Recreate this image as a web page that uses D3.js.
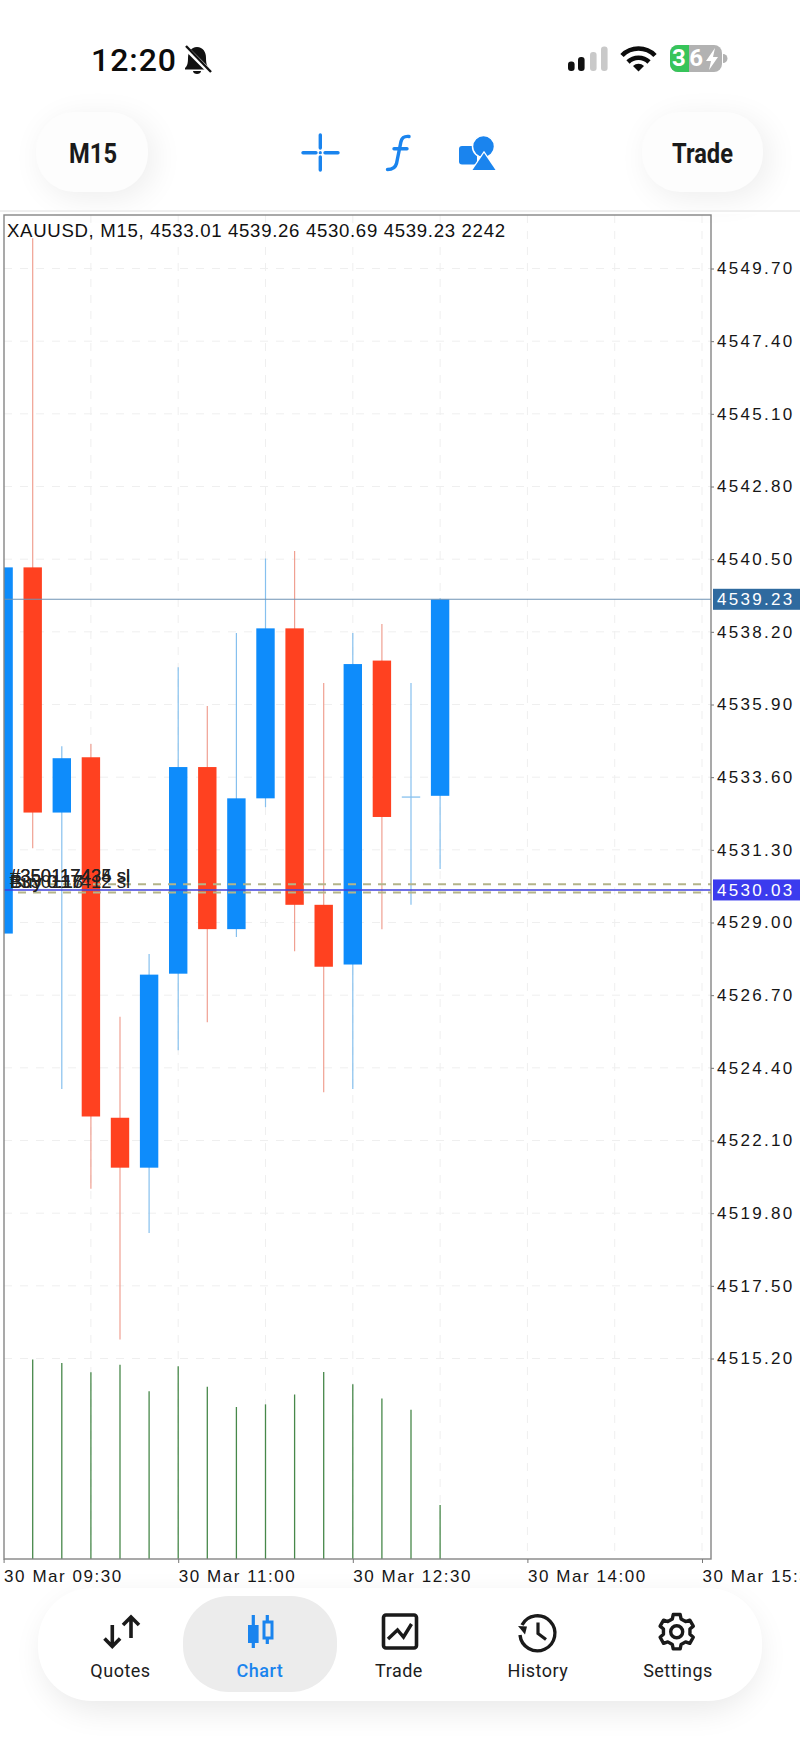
<!DOCTYPE html>
<html>
<head>
<meta charset="utf-8">
<title>XAUUSD M15</title>
<script src="https://cdnjs.cloudflare.com/ajax/libs/d3/7.8.5/d3.min.js"></script>
<style>
    html, body { margin: 0; padding: 0; background: #fff; overflow: hidden; }
    svg { display: block; }
    text { font-family: Roboto, sans-serif; }
    .axis text { font-family: "Liberation Sans", sans-serif; font-size: 17px; letter-spacing: 2.3px; fill: #161616; }
    .axis line { stroke: #777; stroke-width: 1; }
    .tab { font-size: 18px; letter-spacing: 0.5px; fill: #1c1c1c; text-anchor: middle; }
</style>
</head>
<body>
<script>
// Bars of the chart, 15 minutes each
const barTimes = ["30 Mar 09:30", "30 Mar 09:45", "30 Mar 10:00", "30 Mar 10:15", "30 Mar 10:30", "30 Mar 10:45", "30 Mar 11:00", "30 Mar 11:15", "30 Mar 11:30", "30 Mar 11:45", "30 Mar 12:00", "30 Mar 12:15", "30 Mar 12:30", "30 Mar 12:45", "30 Mar 13:00", "30 Mar 13:15"];
const opens  = [4528.65, 4540.24, 4532.48, 4534.23, 4522.82, 4521.24, 4527.38, 4533.92, 4528.79, 4532.93, 4538.31, 4529.56, 4527.67, 4537.29, 4532.97, 4533.01];
const highs  = [4540.24, 4550.66, 4534.58, 4534.65, 4526.02, 4528.00, 4537.08, 4535.85, 4538.16, 4540.52, 4540.76, 4536.58, 4538.16, 4538.45, 4536.58, 4539.26];
const lows   = [4528.65, 4531.35, 4523.73, 4520.57, 4515.80, 4519.17, 4524.96, 4525.84, 4528.54, 4532.65, 4528.09, 4523.63, 4523.73, 4528.79, 4529.56, 4530.69];
const closes = [4540.24, 4532.48, 4534.20, 4522.86, 4521.24, 4527.35, 4533.92, 4528.79, 4532.93, 4538.31, 4529.56, 4527.60, 4537.18, 4532.34, 4532.97, 4539.23];
// first bar has no volume line showing, it sits under the frame
const volumes = [null, 8280, 8140, 7750, 8060, 6960, 8000, 7150, 6310, 6420, 6830, 7760, 7260, 6660, 6200, 2242];

const priceTicks = [4549.70, 4547.40, 4545.10, 4542.80, 4540.50, 4538.20, 4535.90, 4533.60, 4531.30, 4529.00, 4526.70, 4524.40, 4522.10, 4519.80, 4517.50, 4515.20];
const timeTicks = ["30 Mar 09:30", "30 Mar 11:00", "30 Mar 12:30", "30 Mar 14:00", "30 Mar 15:30"];
const gridTimes = ["30 Mar 10:15", "30 Mar 11:00", "30 Mar 11:45", "30 Mar 12:30", "30 Mar 13:15", "30 Mar 14:00", "30 Mar 14:45", "30 Mar 15:30"];

const lastPrice = 4539.23;
const bidPrice = 4530.03;
const orderLevels = [4530.21, 4529.95];
const orderLabelsTop = ["#350117435 sl", "#350117434 sl"];
const orderLabelsBottom = ["#350117412 sl", "Buy 0.17", "Buy 0.18"];
const headerText = "XAUUSD, M15, 4533.01 4539.26 4530.69 4539.23 2242";
const tabNames = ["Quotes", "Chart", "Trade", "History", "Settings"];

const blue = "#0e8cfb", red = "#ff4120", accent = "#1a84ee", dark = "#1a1a1a";
const frame = { left: 4, right: 711, top: 215, bottom: 1559 };

const parseTime = d3.timeParse("%d %b %H:%M");
const formatTime = d3.timeFormat("%d %b %H:%M");

const x = d3.scaleTime()
    .domain([parseTime("30 Mar 09:30"), parseTime("30 Mar 15:30")])
    .range([3.6, 702]);
const y = d3.scaleLinear()
    .domain([4515.20, 4549.70])
    .range([1358.5, 268.5]);
const yVol = d3.scaleLinear()
    .domain([0, 2242])
    .range([1559, 1505]);

const svg = d3.select("body").append("svg").attr("width", 800).attr("height", 1739);
const defs = svg.append("defs");
defs.append("clipPath").attr("id", "plot").append("rect")
    .attr("x", frame.left).attr("y", frame.top)
    .attr("width", frame.right - frame.left).attr("height", frame.bottom - frame.top);
defs.append("filter").attr("id", "soft")
    .attr("x", "-30%").attr("y", "-50%").attr("width", "160%").attr("height", "220%")
    .append("feGaussianBlur").attr("stdDeviation", 16);

// ---- chart ----
const plot = svg.append("g").attr("clip-path", "url(#plot)");

// grid
plot.selectAll(".hgrid").data(priceTicks).enter().append("line")
    .attr("x1", frame.left).attr("x2", frame.right)
    .attr("y1", d => y(d)).attr("y2", d => y(d))
    .attr("stroke", "#efefef").attr("stroke-width", 1).attr("stroke-dasharray", "8 8");
plot.selectAll(".vgrid").data(gridTimes).enter().append("line")
    .attr("x1", d => x(parseTime(d))).attr("x2", d => x(parseTime(d)))
    .attr("y1", frame.top).attr("y2", frame.bottom)
    .attr("stroke", "#efefef").attr("stroke-width", 1).attr("stroke-dasharray", "8 8");

// volume
plot.selectAll(".vol").data(barTimes.filter((t, i) => volumes[i] !== null)).enter().append("line")
    .attr("x1", d => x(parseTime(d))).attr("x2", d => x(parseTime(d)))
    .attr("y1", yVol(0))
    .attr("y2", d => yVol(volumes[barTimes.indexOf(d)]))
    .attr("stroke", "#47884a").attr("stroke-width", 1.3);

// candles
const bodyWidth = 18.4;
const candles = plot.selectAll(".candle").data(barTimes).enter().append("g");
candles.append("line")
    .attr("x1", d => x(parseTime(d))).attr("x2", d => x(parseTime(d)))
    .attr("y1", (d, i) => y(highs[i])).attr("y2", (d, i) => y(lows[i]))
    .attr("stroke", (d, i) => closes[i] >= opens[i] ? "#86c0ee" : "#f0a092")
    .attr("stroke-width", 1.2);
candles.append("rect")
    .attr("x", d => x(parseTime(d)) - bodyWidth / 2)
    .attr("width", bodyWidth)
    .attr("y", (d, i) => y(Math.max(opens[i], closes[i])))
    .attr("height", (d, i) => Math.abs(y(opens[i]) - y(closes[i])))
    .attr("fill", (d, i) => closes[i] >= opens[i] ? blue : red);
// doji bar has no body height, mark it with a thin line
candles.filter((d, i) => opens[i] === closes[i]).append("line")
    .attr("x1", d => x(parseTime(d)) - bodyWidth / 2)
    .attr("x2", d => x(parseTime(d)) + bodyWidth / 2)
    .attr("y1", (d, i) => y(opens[barTimes.indexOf(d)]))
    .attr("y2", (d, i) => y(opens[barTimes.indexOf(d)]))
    .attr("stroke", "#86c0ee").attr("stroke-width", 1.3);

// open orders and price lines
plot.selectAll(".order").data(orderLevels).enter().append("line")
    .attr("x1", 18).attr("x2", frame.right)
    .attr("y1", d => y(d)).attr("y2", d => y(d))
    .attr("stroke", "#b4b48a").attr("stroke-width", 1.8).attr("stroke-dasharray", "8 7");
plot.append("line").attr("x1", frame.left).attr("x2", frame.right)
    .attr("y1", y(lastPrice)).attr("y2", y(lastPrice))
    .attr("stroke", "#6f93b5").attr("stroke-width", 1.1);
plot.append("line").attr("x1", frame.left).attr("x2", frame.right)
    .attr("y1", y(bidPrice)).attr("y2", y(bidPrice))
    .attr("stroke", "#4040dd").attr("stroke-width", 1.6);

orderLabelsTop.forEach(t => {
    svg.append("text").attr("x", 10).attr("y", 882).text(t)
        .style("font-family", "Liberation Sans").style("font-size", "18.5px").attr("fill", "#222");
});
orderLabelsBottom.forEach(t => {
    svg.append("text").attr("x", 10).attr("y", 888).text(t)
        .style("font-family", "Liberation Sans").style("font-size", "18.5px").attr("fill", "#222");
});

// frame
svg.append("rect")
    .attr("x", frame.left).attr("y", frame.top)
    .attr("width", frame.right - frame.left).attr("height", frame.bottom - frame.top)
    .attr("fill", "none").attr("stroke", "#858585").attr("stroke-width", 1.4);

svg.append("text").attr("x", 7).attr("y", 237).text(headerText)
    .attr("textLength", 498)
    .style("font-family", "Liberation Sans").style("font-size", "18.6px").attr("fill", "#111");

// axes
const yAxis = d3.axisRight(y).tickValues(priceTicks).tickFormat(d3.format(".2f")).tickSize(3).tickPadding(3);
svg.append("g").attr("class", "axis").attr("transform", `translate(${frame.right},0)`).call(yAxis)
    .call(g => g.select(".domain").remove());

const xAxis = d3.axisBottom(x).tickValues(timeTicks.map(parseTime)).tickFormat(formatTime).tickSize(4).tickPadding(3);
svg.append("g").attr("class", "axis").attr("transform", `translate(0,${frame.bottom})`).call(xAxis)
    .call(g => g.select(".domain").remove())
    .call(g => g.selectAll("text").attr("text-anchor", "start").style("letter-spacing", "1.55px").attr("dy", "0.95em"));

// price tags on the right
[[lastPrice, "#2f6a9f"], [bidPrice, "#3b3bee"]].forEach(p => {
    svg.append("rect").attr("x", 713).attr("y", y(p[0]) - 10.5).attr("width", 87).attr("height", 21).attr("fill", p[1]);
    svg.append("text").attr("x", 717).attr("y", y(p[0]) + 6).text(d3.format(".2f")(p[0]))
        .style("font-family", "Liberation Sans").style("font-size", "17px").style("letter-spacing", "2.3px").attr("fill", "#fff");
});

// ---- top bar ----
svg.append("line").attr("x1", 0).attr("x2", 800).attr("y1", 211).attr("y2", 211).attr("stroke", "#dedede").attr("stroke-width", 1);

[[36, 112, 112, 80], [642, 112, 121, 80]].forEach(p => {
    svg.append("rect").attr("x", p[0] + 6).attr("y", p[1] + 6).attr("width", p[2]).attr("height", p[3]).attr("rx", 38)
        .attr("fill", "#000").attr("opacity", 0.07).attr("filter", "url(#soft)");
    svg.append("rect").attr("x", p[0]).attr("y", p[1]).attr("width", p[2]).attr("height", p[3]).attr("rx", 38).attr("fill", "#fdfdfd");
});
svg.append("rect").attr("x", 0).attr("y", 210).attr("width", 800).attr("height", 4).attr("fill", "#fff");
svg.append("line").attr("x1", 0).attr("x2", 800).attr("y1", 211).attr("y2", 211).attr("stroke", "#dedede").attr("stroke-width", 1);

svg.append("text").attr("x", 69).attr("y", 163).text("M15").attr("textLength", 48).attr("lengthAdjust", "spacingAndGlyphs")
    .style("font-size", "28px").style("font-weight", 700).attr("fill", dark);
svg.append("text").attr("x", 672).attr("y", 163).text("Trade").attr("textLength", 61).attr("lengthAdjust", "spacingAndGlyphs")
    .style("font-size", "28px").style("font-weight", 700).attr("fill", dark);

// status bar
svg.append("text").attr("x", 91).attr("y", 71).text("12:20").attr("textLength", 85)
    .style("font-size", "32px").style("font-weight", 500).attr("fill", "#0c0c0c");
const bell = svg.append("g").attr("fill", "#111");
bell.append("path").attr("d", "M197 47c-6 0-9 5-9 11 0 6-1 8-3 10v1.500h24v-1.500c-2-2-3-4-3-10 0-6-3-11-9-11z");
bell.append("path").attr("d", "M193 71h8c0 2-2 3-4 3s-4-1-4-3z");
bell.append("line").attr("x1", 185).attr("y1", 47).attr("x2", 211).attr("y2", 73).attr("stroke", "#fff").attr("stroke-width", 5);
bell.append("line").attr("x1", 186).attr("y1", 46).attr("x2", 211).attr("y2", 72).attr("stroke", "#111").attr("stroke-width", 2.4);

[[568, 61.5, "#111"], [578, 57, "#111"], [590, 52, "#c9c9c9"], [601, 46.5, "#c9c9c9"]].forEach(b => {
    svg.append("rect").attr("x", b[0]).attr("y", b[1]).attr("width", 6.6).attr("height", 71 - b[1]).attr("rx", 3).attr("fill", b[2]);
});
const wifi = svg.append("g").attr("fill", "none").attr("stroke", "#0c0c0c").attr("stroke-width", 4.6);
wifi.append("path").attr("d", "M622 55.500a23 23 0 0 1 33 0");
wifi.append("path").attr("d", "M628 62a15 15 0 0 1 21 0");
svg.append("path").attr("d", "M633 66a8 8 0 0 1 11 0l-5.500 5.500z").attr("fill", "#0c0c0c");

svg.append("rect").attr("x", 670).attr("y", 45).attr("width", 52).attr("height", 27).attr("rx", 8).attr("fill", "#b2b2b2");
svg.append("path").attr("d", "M678 45h11v27h-11a8 8 0 0 1-8-8v-11a8 8 0 0 1 8-8z").attr("fill", "#37c45a");
svg.append("path").attr("d", "M723 54a4 4 0 0 1 0 9z").attr("fill", "#b2b2b2");
svg.append("text").attr("x", 672).attr("y", 66).text("36").style("font-size", "24px").style("font-weight", 700)
    .attr("fill", "#fff").attr("textLength", 31);
svg.append("path").attr("d", "M715 48l-9 13h5l-2 9 9-13h-5z").attr("fill", "#fff");

// toolbar icons
const cross = svg.append("g").attr("stroke", accent).attr("stroke-width", 3.4).attr("stroke-linecap", "round");
[[303, 152.700, 316, 152.700], [325, 152.700, 338, 152.700], [320.300, 135, 320.300, 148], [320.300, 157, 320.300, 170]].forEach(s => {
    cross.append("line").attr("x1", s[0]).attr("y1", s[1]).attr("x2", s[2]).attr("y2", s[3]);
});
svg.append("circle").attr("cx", 320.3).attr("cy", 152.7).attr("r", 1.6).attr("fill", accent);
svg.append("path").attr("d", "M409 136.500c-5-0.500-7 1-8 5l-4.500 22c-1 4-4 6-9 6M394 148.700h13")
    .attr("fill", "none").attr("stroke", accent).attr("stroke-width", 3.4).attr("stroke-linecap", "round");
svg.append("rect").attr("x", 459).attr("y", 146).attr("width", 18).attr("height", 18.5).attr("rx", 3).attr("fill", accent);
svg.append("circle").attr("cx", 483.5).attr("cy", 146.5).attr("r", 11).attr("fill", accent).attr("stroke", "#fff").attr("stroke-width", 1.5);
svg.append("path").attr("d", "M484 153l11.500 17h-23z").attr("fill", accent).attr("stroke", "#fff").attr("stroke-width", 2.5).attr("paint-order", "stroke");

// ---- bottom tabs ----
svg.append("rect").attr("x", 44).attr("y", 1600).attr("width", 714).attr("height", 110).attr("rx", 54)
    .attr("fill", "#000").attr("opacity", 0.09).attr("filter", "url(#soft)");
svg.append("rect").attr("x", 38).attr("y", 1588).attr("width", 724).attr("height", 113).attr("rx", 54).attr("fill", "#fff");
svg.append("rect").attr("x", 183).attr("y", 1596).attr("width", 154).attr("height", 96).attr("rx", 46).attr("fill", "#ececec");

const tabX = d3.scaleOrdinal().domain(tabNames).range([120.5, 260, 399, 538, 678]);
svg.selectAll(".tab").data(tabNames).enter().append("text")
    .attr("class", "tab")
    .attr("x", d => tabX(d)).attr("y", 1677)
    .style("fill", d => d === "Chart" ? accent : null)
    .style("font-weight", d => d === "Chart" ? 500 : 400)
    .text(d => d);

// quotes icon
svg.append("path").attr("d", "M131 1638v-21M123 1625l8-8 8 8M112.300 1625v21M104.500 1638.500l7.800 8 7.800-8")
    .attr("fill", "none").attr("stroke", dark).attr("stroke-width", 3.6);
// chart icon
svg.append("path").attr("d", "M253.300 1615v33M267.300 1615v29").attr("stroke", accent).attr("stroke-width", 3.2);
svg.append("rect").attr("x", 248).attr("y", 1625).attr("width", 10.6).attr("height", 18).attr("fill", accent);
svg.append("rect").attr("x", 264).attr("y", 1622).attr("width", 8).attr("height", 16).attr("fill", "#ececec").attr("stroke", accent).attr("stroke-width", 3);
// trade icon
svg.append("rect").attr("x", 383.5).attr("y", 1615).attr("width", 33).attr("height", 33).attr("rx", 2.5)
    .attr("fill", "none").attr("stroke", dark).attr("stroke-width", 3.6);
svg.append("path").attr("d", "M388 1639l9.500-9 6 7 8-13").attr("fill", "none").attr("stroke", dark).attr("stroke-width", 3.4);
// history icon
svg.append("path").attr("d", "M522 1625a17.500 17.500 0 1 1-2 10").attr("fill", "none").attr("stroke", dark).attr("stroke-width", 3.4);
svg.append("path").attr("d", "M518 1626l9 0.500-2 8z").attr("fill", dark);
svg.append("path").attr("d", "M538 1622.500v11l8 6").attr("fill", "none").attr("stroke", dark).attr("stroke-width", 3.2);
// settings icon, gear outline
const gear = [];
d3.range(6).forEach(i => {
    const a = i * Math.PI / 3 - Math.PI / 2;
    [[-0.33, 13.5], [-0.2, 17.5], [0.2, 17.5], [0.33, 13.5]].forEach(p => gear.push([a + p[0], p[1]]));
});
svg.append("path").attr("transform", "translate(676.7,1631.7)")
    .attr("d", d3.lineRadial().angle(d => d[0] + Math.PI / 2).radius(d => d[1]).curve(d3.curveLinearClosed)(gear))
    .attr("fill", "none").attr("stroke", dark).attr("stroke-width", 3.4).attr("stroke-linejoin", "round");
svg.append("circle").attr("cx", 676.7).attr("cy", 1631.7).attr("r", 6).attr("fill", "none").attr("stroke", dark).attr("stroke-width", 3.4);
</script>
</body>
</html>
